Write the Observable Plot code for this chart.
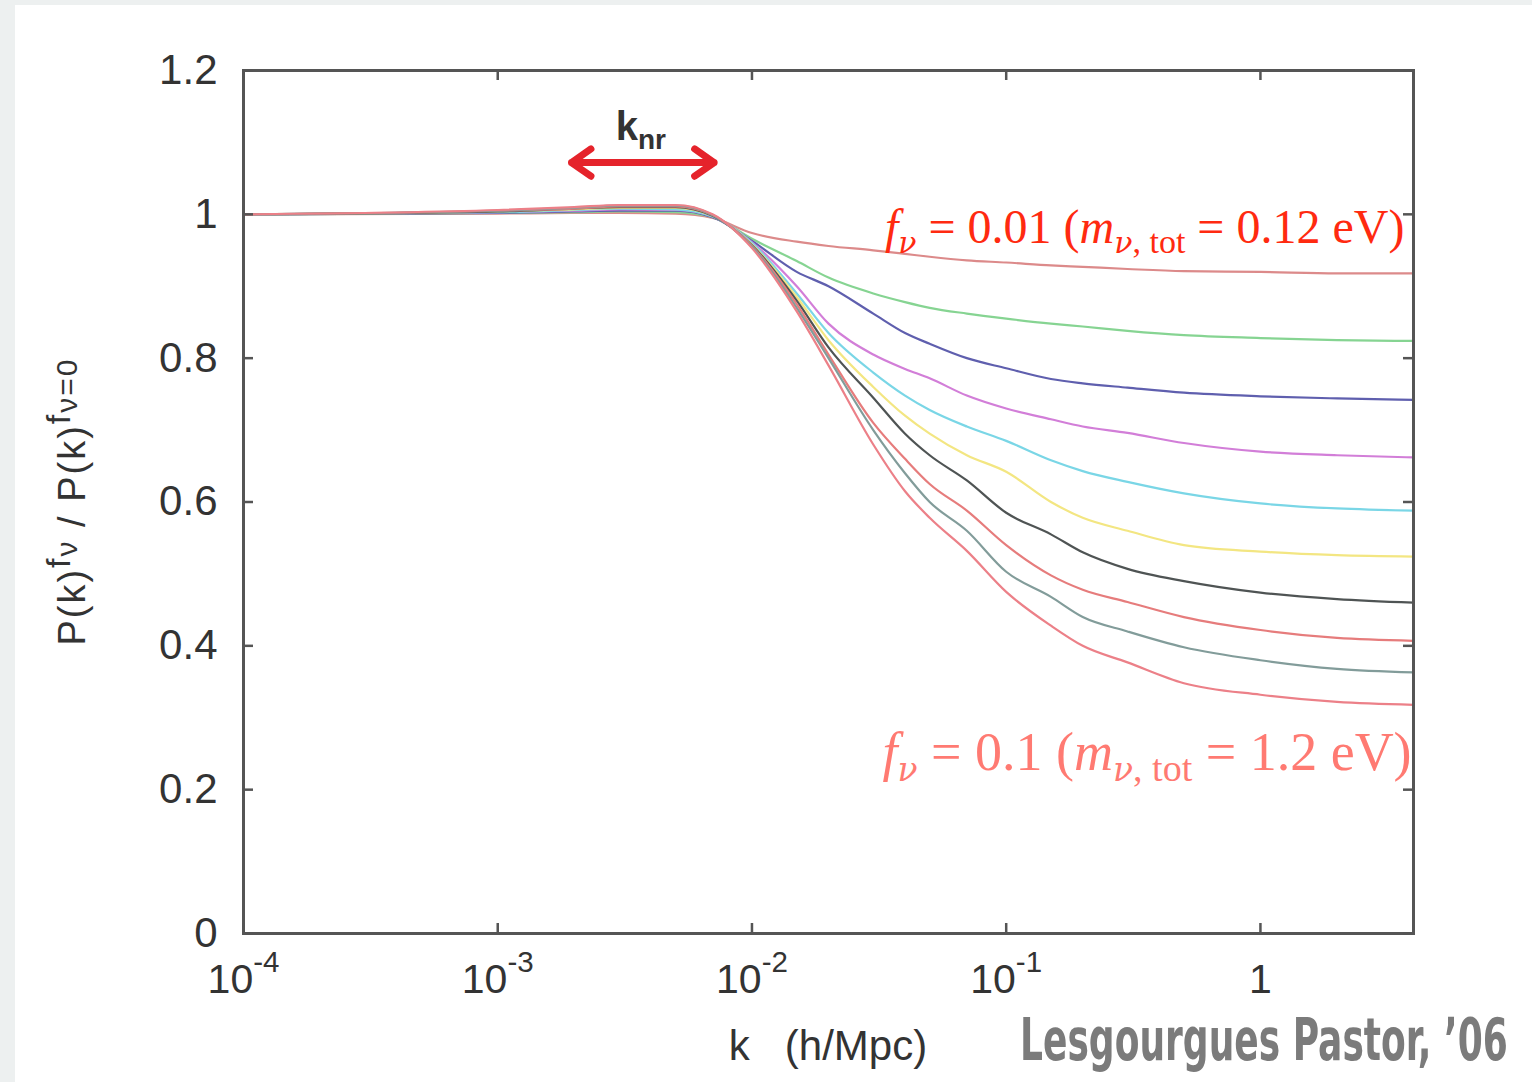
<!DOCTYPE html>
<html><head><meta charset="utf-8">
<script src="https://cdn.jsdelivr.net/npm/d3@7"></script>
<script src="https://cdn.jsdelivr.net/npm/@observablehq/plot@0.6"></script>
<style>
body{margin:0;background:#edf0f0;width:1532px;height:1082px;overflow:hidden;position:relative;}
#panel{position:absolute;left:15px;top:5px;width:1517px;height:1077px;background:#fff}
#chart{position:absolute;left:0;top:0}
</style></head><body>
<div id="panel"></div>
<div id="chart"></div>
<script>
// k in h/Mpc
const k = [1e-4, 1e-3, 2e-3, 3e-3, 5e-3, 7e-3, 1e-2, 1.5e-2, 2e-2, 3e-2, 4e-2, 5e-2, 7e-2, 0.1, 0.15, 0.2, 0.3, 0.5, 1, 2, 4];
const fnu = [0.01, 0.02, 0.03, 0.04, 0.05, 0.06, 0.07, 0.08, 0.09, 0.10];
// P(k)^{f_nu} / P(k)^{f_nu=0}
const r01 = [1.000,1.001,1.002,1.002,1.001,0.995,0.974,0.962,0.956,0.950,0.945,0.941,0.936,0.933,0.929,0.927,0.924,0.921,0.920,0.918,0.918];
const r02 = [1.000,1.002,1.003,1.004,1.003,0.996,0.966,0.935,0.912,0.890,0.878,0.870,0.862,0.855,0.848,0.844,0.838,0.832,0.828,0.825,0.824];
const r03 = [1.000,1.002,1.004,1.005,1.005,0.996,0.963,0.920,0.900,0.862,0.835,0.820,0.800,0.786,0.771,0.765,0.759,0.752,0.747,0.744,0.742];
const r04 = [1.000,1.003,1.005,1.007,1.006,0.997,0.961,0.900,0.848,0.805,0.785,0.772,0.748,0.730,0.715,0.705,0.696,0.682,0.670,0.665,0.662];
const r05 = [1.000,1.003,1.006,1.008,1.007,0.997,0.960,0.890,0.835,0.780,0.748,0.728,0.705,0.685,0.658,0.643,0.628,0.612,0.598,0.591,0.588];
const r06 = [1.000,1.004,1.007,1.009,1.009,0.998,0.958,0.885,0.825,0.760,0.720,0.695,0.665,0.642,0.600,0.578,0.560,0.540,0.531,0.526,0.524];
const r07 = [1.000,1.004,1.008,1.010,1.010,0.998,0.957,0.880,0.815,0.745,0.695,0.665,0.630,0.585,0.555,0.530,0.507,0.490,0.474,0.465,0.460];
const r08 = [1.000,1.005,1.008,1.011,1.011,0.999,0.956,0.875,0.805,0.710,0.660,0.625,0.588,0.540,0.498,0.478,0.461,0.440,0.422,0.411,0.407];
const r09 = [1.000,1.005,1.009,1.012,1.012,0.999,0.955,0.870,0.800,0.700,0.640,0.600,0.560,0.503,0.468,0.440,0.420,0.398,0.380,0.368,0.363];
const r10 = [1.000,1.006,1.010,1.013,1.013,1.000,0.953,0.865,0.790,0.680,0.615,0.578,0.532,0.475,0.428,0.400,0.377,0.348,0.332,0.322,0.318];
const series = [r01, r02, r03, r04, r05, r06, r07, r08, r09, r10];

const xTicks = [1e-4, 1e-3, 1e-2, 1e-1, 1];
const yTicks = [0, 0.2, 0.4, 0.6, 0.8, 1.0, 1.2];

// styles
const lineColors = ["#dc8a8a","#86d492","#5f5fae","#d27ed8","#7ad6e6","#f3e682","#4f5454","#e67c7c","#829c9a","#ec8088"];

const W = 1532, H = 1082, mL = 243, mR = 119, mT = 70, mB = 149;
const plotW = W - mL - mR, plotH = H - mT - mB, tickLen = 10;

const rows = [];
series.forEach((s, i) => s.forEach((v, j) => rows.push({k: k[j], r: v, f: fnu[i]})));

const knrMid = 3.72e-3, knrLo = 1.95e-3, knrHi = 7.1e-3, arrowY = 1.072;

const plot = Plot.plot({
  width: W, height: H,
  marginLeft: mL, marginRight: mR, marginTop: mT, marginBottom: mB,
  x: {type: "log", domain: [1e-4, 4]},
  y: {domain: [0, 1.2]},
  style: {background: "transparent", fontFamily: "'Liberation Sans', Arial, sans-serif", color: "#333", overflow: "visible"},
  marks: [
    ...series.map((s, i) => Plot.line(rows.filter(d => d.f === fnu[i]), {x: "k", y: "r", stroke: lineColors[i], strokeWidth: 2.2, curve: "monotone-x"})),
    Plot.frame({stroke: "#555", strokeWidth: 3}),
    Plot.tickX(xTicks, {x: d => d, stroke: "#555", strokeWidth: 2.5, insetTop: plotH - tickLen}),
    Plot.tickX(xTicks, {x: d => d, stroke: "#555", strokeWidth: 2.5, insetBottom: plotH - tickLen}),
    Plot.tickY(yTicks, {y: d => d, stroke: "#555", strokeWidth: 2.5, insetRight: plotW - tickLen}),
    Plot.tickY(yTicks, {y: d => d, stroke: "#555", strokeWidth: 2.5, insetLeft: plotW - tickLen}),
    Plot.axisX({ticks: xTicks, tickSize: 0, tickPadding: 30, fontSize: 41, label: null,
      tickFormat: d => d === 1 ? "1" : "10|" + Math.round(Math.log10(d))}),
    Plot.axisY({ticks: yTicks, tickSize: 0, tickPadding: 26, fontSize: 42, label: null,
      tickFormat: d => String(+d.toFixed(1))}),
    Plot.arrow([{x1: knrMid, x2: knrLo, y: arrowY}, {x1: knrMid, x2: knrHi, y: arrowY}],
      {x1: "x1", x2: "x2", y1: "y", y2: "y", stroke: "#e5232b", strokeWidth: 7, headLength: 26, headAngle: 70})
  ]
});
document.getElementById("chart").appendChild(plot);

const svg = d3.select(plot);
const xs = plot.scale("x"), ys = plot.scale("y");

// superscript exponents on x tick labels
svg.selectAll('g[aria-label="x-axis tick label"] text').each(function() {
  const t = this.textContent;
  if (!t.includes("|")) return;
  const [b, e] = t.split("|");
  const sel = d3.select(this);
  sel.text(null);
  sel.append("tspan").text(b);
  sel.append("tspan").attr("dy", "-0.7em").attr("font-size", "0.72em").text(e);
});

// axis titles
const xc = (xs.range[0] + xs.range[1]) / 2;
svg.append("text").attr("x", xc).attr("y", H - 22).attr("text-anchor", "middle")
  .attr("font-size", 42).attr("fill", "#333").style("white-space", "pre").text("k   (h/Mpc)");

const yl = svg.append("text")
  .attr("transform", `translate(${mL - 158},${ys.apply(0.6)}) rotate(-90)`)
  .attr("text-anchor", "middle").attr("font-size", 38).attr("fill", "#333")
  .attr("letter-spacing", 2);
yl.append("tspan").text("P(k)");
yl.append("tspan").attr("dy", -15).attr("font-size", 34).text("f");
yl.append("tspan").attr("dy", 7).attr("font-size", 30).text("ν");
yl.append("tspan").attr("dy", 8).style("white-space", "pre").text(" / P(k)");
yl.append("tspan").attr("dy", -15).attr("font-size", 34).text("f");
yl.append("tspan").attr("dy", 7).attr("font-size", 30).text("ν=0");

// k_nr
const kn = svg.append("text").attr("x", xs.apply(3.67e-3)).attr("y", ys.apply(1.103))
  .attr("text-anchor", "middle").attr("font-size", 40).attr("fill", "#333").attr("font-weight", "bold");
kn.append("tspan").text("k");
kn.append("tspan").attr("dy", 9).attr("font-size", 28).text("nr");

// f_nu annotations
const notes = [
  {k: 3.7, v: 0.96, size: 48, color: "#ff2a10", parts: [["f","i"],["ν","si"],[" = 0.01 ("],["m","i"],["ν","si"],[", tot","s"],[" = 0.12 eV)"]]},
  {k: 3.95, v: 0.227, size: 54, color: "#ff7a72", parts: [["f","i"],["ν","si"],[" = 0.1 ("],["m","i"],["ν","si"],[", tot","s"],[" = 1.2 eV)"]]}
];
for (const n of notes) {
  const t = svg.append("text").attr("x", xs.apply(n.k)).attr("y", ys.apply(n.v))
    .attr("text-anchor", "end").attr("font-size", n.size).attr("fill", n.color)
    .attr("font-family", "'Liberation Serif','DejaVu Serif',serif");
  let sub = false;
  const off = Math.round(n.size * 0.2);
  for (const [txt, st = ""] of n.parts) {
    const isSub = st.includes("s");
    const ts = t.append("tspan").style("white-space", "pre").text(txt);
    if (isSub && !sub) ts.attr("dy", off);
    if (!isSub && sub) ts.attr("dy", -off);
    if (isSub) ts.attr("font-size", Math.round(n.size * 0.7));
    if (st.includes("i")) ts.attr("font-style", "italic");
    if (txt === "ν") ts.attr("font-family", "'DejaVu Serif','Liberation Serif',serif").attr("font-size", Math.round(n.size * 0.62));
    sub = isSub;
  }
}

// credit (condensed by a horizontal scale so its box is its drawn size)
const credit = svg.append("text").attr("text-anchor", "start")
  .attr("font-family", "'DejaVu Sans Condensed','Liberation Sans Narrow',sans-serif")
  .attr("font-weight", "bold").attr("font-size", 58).attr("fill", "#7b7b7b")
  .text("Lesgourgues Pastor, ’06");
const natural = credit.node().getComputedTextLength() || 700;
credit.attr("transform", `translate(1020,1060) scale(${488 / natural},1)`);
</script>
</body></html>
